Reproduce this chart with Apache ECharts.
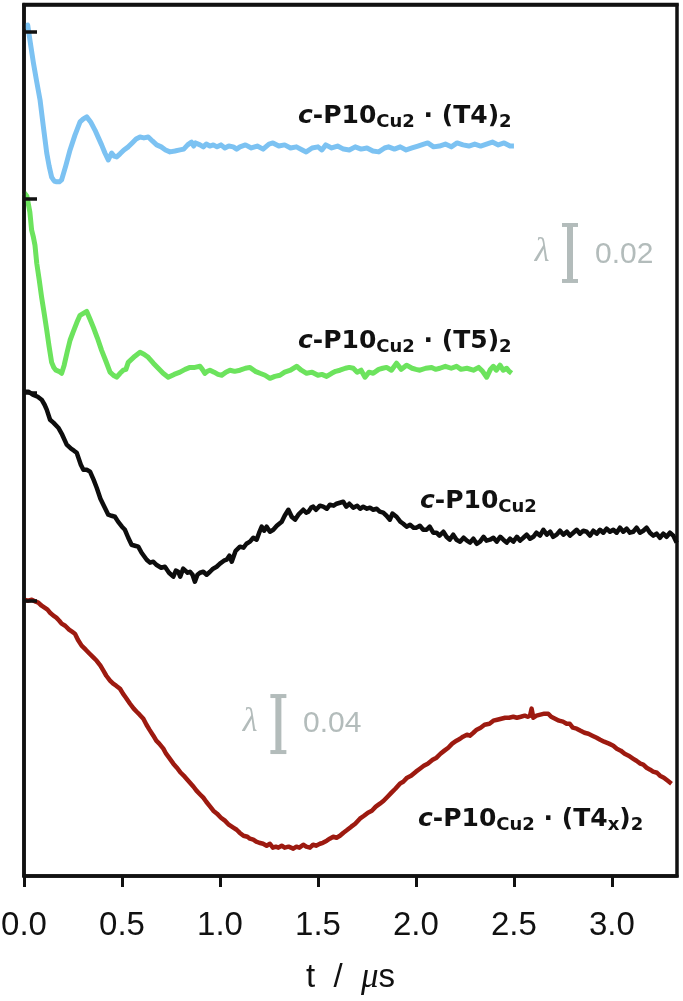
<!DOCTYPE html>
<html>
<head>
<meta charset="utf-8">
<script src="https://cdn.jsdelivr.net/npm/echarts@6/dist/echarts.min.js"></script>
<style>html,body{margin:0;padding:0;background:#fff;}#c{width:683px;height:1001px;}</style>
</head>
<body>
<div id="c"></div>
<script>
// ---- data (t in µs, normalised echo intensity) ----
const tTicks = [0, 0.5, 1, 1.5, 2, 2.5, 3];
const tTickLabels = ['0.0', '0.5', '1.0', '1.5', '2.0', '2.5', '3.0'];

const traceT4 = [
[0.000,1.0016],[0.019,1.0023],[0.030,0.9970],[0.048,0.9888],[0.065,0.9820],[0.082,0.9755],[0.099,0.9659],[0.116,0.9566],
[0.128,0.9520],[0.141,0.9480],[0.154,0.9466],[0.167,0.9463],[0.180,0.9463],[0.192,0.9470],[0.213,0.9520],[0.235,0.9577],
[0.260,0.9630],[0.286,0.9677],[0.303,0.9688],[0.320,0.9695],[0.340,0.9677],[0.362,0.9648],[0.380,0.9620],[0.396,0.9595],
[0.413,0.9566],[0.430,0.9541],[0.447,0.9566],[0.460,0.9555],[0.473,0.9552],[0.490,0.9563],[0.510,0.9577],[0.532,0.9588],
[0.552,0.9602],[0.572,0.9616],[0.592,0.9623],[0.612,0.9620],[0.634,0.9623],[0.655,0.9609],[0.677,0.9595],[0.700,0.9588],
[0.722,0.9577],[0.745,0.9570],[0.770,0.9573],[0.796,0.9577],[0.815,0.9580],[0.835,0.9595],[0.855,0.9605],[0.866,0.9591],
[0.876,0.9602],[0.898,0.9595],[0.915,0.9588],[0.930,0.9598],[0.948,0.9591],[0.966,0.9595],[0.985,0.9588],[1.005,0.9595],
[1.025,0.9584],[1.045,0.9591],[1.068,0.9588],[1.085,0.9580],[1.102,0.9588],[1.130,0.9595],[1.160,0.9584],[1.190,0.9591],
[1.220,0.9580],[1.250,0.9598],[1.270,0.9602],[1.300,0.9591],[1.330,0.9595],[1.360,0.9584],[1.390,0.9588],[1.420,0.9577],
[1.440,0.9570],[1.470,0.9584],[1.500,0.9588],[1.520,0.9577],[1.540,0.9595],[1.570,0.9584],[1.600,0.9591],[1.630,0.9580],
[1.660,0.9577],[1.690,0.9588],[1.720,0.9580],[1.750,0.9584],[1.780,0.9573],[1.810,0.9570],[1.840,0.9584],[1.860,0.9588],
[1.890,0.9580],[1.920,0.9588],[1.950,0.9577],[1.980,0.9584],[2.010,0.9591],[2.040,0.9598],[2.060,0.9602],[2.090,0.9588],
[2.120,0.9591],[2.150,0.9598],[2.180,0.9588],[2.210,0.9602],[2.240,0.9595],[2.270,0.9591],[2.300,0.9598],[2.330,0.9591],
[2.360,0.9598],[2.390,0.9605],[2.420,0.9595],[2.450,0.9602],[2.480,0.9591],[2.500,0.9591]
];

const traceT5 = [
[0.000,1.0021],[0.015,1.0007],[0.030,0.9950],[0.039,0.9886],[0.048,0.9861],[0.056,0.9832],[0.065,0.9768],[0.078,0.9707],
[0.090,0.9646],[0.103,0.9589],[0.116,0.9529],[0.128,0.9471],[0.141,0.9414],[0.152,0.9396],[0.163,0.9386],[0.178,0.9382],
[0.192,0.9375],[0.205,0.9404],[0.220,0.9450],[0.235,0.9493],[0.250,0.9521],[0.270,0.9557],[0.286,0.9582],[0.303,0.9589],
[0.320,0.9596],[0.337,0.9568],[0.354,0.9539],[0.375,0.9500],[0.396,0.9457],[0.418,0.9418],[0.439,0.9379],[0.456,0.9368],
[0.473,0.9361],[0.490,0.9375],[0.507,0.9386],[0.520,0.9389],[0.532,0.9414],[0.541,0.9421],[0.566,0.9436],[0.592,0.9450],
[0.612,0.9443],[0.634,0.9432],[0.660,0.9411],[0.685,0.9393],[0.710,0.9375],[0.736,0.9361],[0.766,0.9371],[0.796,0.9379],
[0.822,0.9389],[0.847,0.9396],[0.872,0.9396],[0.898,0.9400],[0.910,0.9389],[0.923,0.9375],[0.936,0.9382],[0.949,0.9386],
[0.970,0.9379],[0.990,0.9371],[1.009,0.9368],[1.030,0.9379],[1.051,0.9386],[1.075,0.9382],[1.102,0.9386],[1.130,0.9393],
[1.153,0.9396],[1.180,0.9382],[1.204,0.9375],[1.230,0.9368],[1.255,0.9357],[1.280,0.9364],[1.306,0.9368],[1.330,0.9379],
[1.360,0.9386],[1.391,0.9400],[1.415,0.9386],[1.442,0.9375],[1.470,0.9379],[1.500,0.9368],[1.520,0.9371],[1.544,0.9364],
[1.570,0.9375],[1.590,0.9382],[1.612,0.9386],[1.640,0.9393],[1.660,0.9396],[1.680,0.9393],[1.700,0.9379],[1.720,0.9386],
[1.740,0.9361],[1.760,0.9379],[1.782,0.9375],[1.810,0.9389],[1.830,0.9393],[1.850,0.9396],[1.875,0.9386],[1.901,0.9411],
[1.925,0.9389],[1.952,0.9404],[1.980,0.9393],[2.000,0.9389],[2.020,0.9386],[2.050,0.9393],[2.080,0.9396],[2.100,0.9389],
[2.122,0.9393],[2.150,0.9400],[2.180,0.9393],[2.207,0.9400],[2.230,0.9389],[2.260,0.9393],[2.293,0.9386],[2.320,0.9396],
[2.340,0.9382],[2.361,0.9361],[2.380,0.9389],[2.395,0.9400],[2.410,0.9386],[2.429,0.9404],[2.445,0.9386],[2.463,0.9393],
[2.475,0.9382],[2.488,0.9375]
];

const traceFree = [
[0.000,1.0007],[0.022,1.0007],[0.045,0.9986],[0.070,0.9971],[0.090,0.9950],[0.105,0.9914],[0.116,0.9879],[0.133,0.9807],
[0.150,0.9786],[0.175,0.9750],[0.195,0.9700],[0.218,0.9629],[0.240,0.9600],[0.255,0.9586],[0.269,0.9571],[0.290,0.9486],
[0.303,0.9450],[0.320,0.9450],[0.337,0.9436],[0.355,0.9379],[0.371,0.9321],[0.390,0.9243],[0.410,0.9186],[0.430,0.9129],
[0.447,0.9121],[0.464,0.9114],[0.480,0.9079],[0.500,0.9043],[0.515,0.9021],[0.532,0.8964],[0.549,0.8914],[0.566,0.8907],
[0.583,0.8900],[0.600,0.8857],[0.626,0.8807],[0.643,0.8786],[0.660,0.8793],[0.675,0.8771],[0.685,0.8757],[0.700,0.8750],
[0.719,0.8757],[0.740,0.8714],[0.762,0.8686],[0.775,0.8729],[0.787,0.8721],[0.797,0.8686],[0.804,0.8686],[0.812,0.8743],
[0.821,0.8736],[0.835,0.8714],[0.847,0.8721],[0.860,0.8700],[0.872,0.8650],[0.885,0.8700],[0.898,0.8714],[0.915,0.8721],
[0.932,0.8700],[0.949,0.8721],[0.965,0.8743],[0.983,0.8757],[1.000,0.8779],[1.020,0.8800],[1.034,0.8807],[1.048,0.8836],
[1.060,0.8793],[1.080,0.8871],[1.102,0.8900],[1.120,0.8893],[1.135,0.8921],[1.153,0.8936],[1.170,0.8964],[1.187,0.8950],
[1.200,0.9000],[1.213,0.9043],[1.225,0.9014],[1.238,0.9043],[1.255,0.9007],[1.272,0.9021],[1.290,0.9050],[1.315,0.9079],
[1.330,0.9121],[1.349,0.9164],[1.366,0.9114],[1.383,0.9093],[1.400,0.9129],[1.425,0.9164],[1.440,0.9143],[1.451,0.9150],
[1.465,0.9179],[1.476,0.9186],[1.490,0.9164],[1.510,0.9193],[1.527,0.9186],[1.545,0.9171],[1.561,0.9200],[1.580,0.9193],
[1.595,0.9207],[1.612,0.9214],[1.629,0.9221],[1.645,0.9186],[1.660,0.9207],[1.680,0.9179],[1.700,0.9193],[1.715,0.9171],
[1.731,0.9186],[1.750,0.9171],[1.765,0.9179],[1.782,0.9164],[1.800,0.9171],[1.815,0.9150],[1.833,0.9143],[1.850,0.9121],
[1.867,0.9093],[1.880,0.9136],[1.901,0.9114],[1.920,0.9079],[1.935,0.9064],[1.952,0.9043],[1.970,0.9057],[1.988,0.9036],
[2.003,0.9036],[2.020,0.9050],[2.037,0.9021],[2.054,0.9021],[2.070,0.9043],[2.088,0.9000],[2.105,0.9000],[2.120,0.8979],
[2.140,0.9007],[2.156,0.8971],[2.172,0.8950],[2.190,0.8986],[2.207,0.8950],[2.225,0.8936],[2.243,0.8964],[2.260,0.8943],
[2.276,0.8929],[2.293,0.8957],[2.310,0.8921],[2.327,0.8936],[2.345,0.8971],[2.360,0.8943],[2.378,0.8950],[2.395,0.8964],
[2.412,0.8936],[2.430,0.8971],[2.446,0.8950],[2.463,0.8929],[2.480,0.8957],[2.497,0.8936],[2.515,0.8971],[2.531,0.8943],
[2.548,0.8964],[2.565,0.8986],[2.582,0.8957],[2.599,0.8971],[2.615,0.9000],[2.633,0.8979],[2.650,0.9021],[2.668,0.8986],
[2.685,0.9007],[2.700,0.8971],[2.718,0.8986],[2.735,0.9014],[2.752,0.8986],[2.770,0.9007],[2.786,0.8979],[2.803,0.9000],
[2.820,0.9021],[2.837,0.8993],[2.854,0.9014],[2.871,0.9007],[2.888,0.8979],[2.905,0.9014],[2.922,0.8993],[2.939,0.9021],
[2.956,0.9000],[2.973,0.9029],[2.990,0.9007],[3.007,0.9021],[3.024,0.9000],[3.041,0.9036],[3.058,0.9007],[3.075,0.9029],
[3.092,0.9000],[3.109,0.9007],[3.126,0.9036],[3.143,0.9000],[3.160,0.9014],[3.177,0.9036],[3.194,0.9000],[3.211,0.8979],
[3.228,0.8993],[3.245,0.8964],[3.262,0.8993],[3.279,0.8971],[3.296,0.9000],[3.313,0.8979],[3.330,0.8929]
];

const traceT4x = [
[0.000,1.0007],[0.022,1.0000],[0.040,1.0007],[0.060,0.9993],[0.073,0.9986],[0.090,0.9964],[0.105,0.9950],[0.120,0.9936],
[0.133,0.9914],[0.150,0.9893],[0.165,0.9879],[0.180,0.9857],[0.192,0.9836],[0.210,0.9821],[0.230,0.9793],[0.245,0.9779],
[0.260,0.9764],[0.275,0.9721],[0.294,0.9679],[0.315,0.9650],[0.335,0.9621],[0.355,0.9593],[0.371,0.9571],[0.390,0.9536],
[0.405,0.9500],[0.420,0.9464],[0.439,0.9429],[0.455,0.9407],[0.470,0.9393],[0.490,0.9371],[0.505,0.9336],[0.520,0.9307],
[0.541,0.9264],[0.560,0.9229],[0.575,0.9207],[0.590,0.9186],[0.609,0.9157],[0.625,0.9114],[0.640,0.9079],[0.660,0.9036],
[0.675,0.9000],[0.690,0.8979],[0.711,0.8943],[0.725,0.8907],[0.740,0.8879],[0.762,0.8836],[0.780,0.8807],[0.800,0.8771],
[0.820,0.8743],[0.847,0.8700],[0.865,0.8671],[0.880,0.8643],[0.900,0.8614],[0.915,0.8593],[0.930,0.8564],[0.950,0.8529],
[0.966,0.8500],[0.985,0.8479],[1.005,0.8450],[1.025,0.8429],[1.045,0.8400],[1.068,0.8379],[1.085,0.8364],[1.100,0.8343],
[1.120,0.8321],[1.140,0.8314],[1.153,0.8300],[1.170,0.8293],[1.185,0.8279],[1.200,0.8271],[1.220,0.8264],[1.238,0.8250],
[1.255,0.8264],[1.270,0.8236],[1.285,0.8243],[1.298,0.8236],[1.315,0.8250],[1.330,0.8236],[1.350,0.8243],[1.374,0.8229],
[1.390,0.8243],[1.405,0.8236],[1.425,0.8257],[1.440,0.8243],[1.459,0.8236],[1.475,0.8257],[1.490,0.8250],[1.510,0.8264],
[1.525,0.8271],[1.545,0.8286],[1.560,0.8300],[1.578,0.8314],[1.595,0.8307],[1.612,0.8321],[1.630,0.8343],[1.650,0.8364],
[1.670,0.8386],[1.690,0.8407],[1.714,0.8443],[1.735,0.8464],[1.755,0.8486],[1.775,0.8500],[1.795,0.8529],[1.816,0.8550],
[1.835,0.8571],[1.855,0.8600],[1.875,0.8629],[1.895,0.8657],[1.918,0.8693],[1.935,0.8707],[1.955,0.8736],[1.975,0.8750],
[2.000,0.8779],[2.020,0.8800],[2.040,0.8821],[2.060,0.8836],[2.085,0.8864],[2.105,0.8879],[2.125,0.8907],[2.145,0.8929],
[2.165,0.8950],[2.185,0.8979],[2.207,0.9000],[2.225,0.9014],[2.240,0.9029],[2.260,0.9043],[2.275,0.9036],[2.293,0.9057],
[2.310,0.9079],[2.330,0.9093],[2.350,0.9114],[2.375,0.9121],[2.395,0.9143],[2.415,0.9150],[2.435,0.9157],[2.455,0.9164],
[2.475,0.9164],[2.497,0.9171],[2.515,0.9164],[2.535,0.9171],[2.555,0.9179],[2.570,0.9171],[2.582,0.9179],[2.590,0.9229],
[2.599,0.9164],[2.615,0.9179],[2.635,0.9186],[2.655,0.9193],[2.675,0.9193],[2.690,0.9171],[2.710,0.9157],[2.730,0.9143],
[2.750,0.9136],[2.769,0.9121],[2.785,0.9121],[2.800,0.9093],[2.820,0.9086],[2.840,0.9071],[2.860,0.9057],[2.880,0.9050],
[2.900,0.9036],[2.922,0.9021],[2.940,0.9007],[2.960,0.8993],[2.985,0.8979],[3.007,0.8964],[3.025,0.8943],[3.045,0.8929],
[3.065,0.8907],[3.085,0.8893],[3.109,0.8871],[3.125,0.8857],[3.145,0.8836],[3.160,0.8829],[3.177,0.8807],[3.195,0.8793],
[3.210,0.8779],[3.230,0.8771],[3.245,0.8750],[3.265,0.8736],[3.285,0.8714],[3.304,0.8693]
];

// scale bars: [t, lower value, upper value]
const scaleBarSmall = [2.786, 0.9109, 0.9309];   // λ 0.02 (top two traces)
const scaleBarLarge = [1.298, 0.8919, 0.9319];   // λ 0.04 (bottom two traces)

// ---- chart ----
const FONT = '"Liberation Sans", Arial, sans-serif';
const LFONT = '"DejaVu Sans", sans-serif';
const GRAY = '#b3bcbb';

function yAx(min, max, withLine) {
  return {
    type: 'value', min: min, max: max, position: 'left', z: 10,
    axisLine: {show: !!withLine, onZero: false, lineStyle: {color: '#111', width: 3.5}},
    splitLine: {show: false}, axisLabel: {show: false},
    axisTick: {show: true, inside: true, length: 13, customValues: [1], lineStyle: {color: '#111', width: 3.5}}
  };
}

function line(data, yi, color, w) {
  return {type: 'line', data: data, yAxisIndex: yi, showSymbol: false, symbol: 'none',
    lineStyle: {color: color, width: w, join: 'round'}, z: 3};
}
function bar(sb, yi) {
  return {type: 'line', yAxisIndex: yi, data: [[sb[0], sb[1]], [sb[0], sb[2]]],
    symbol: 'rect', symbolSize: [16, 4], showSymbol: true, itemStyle: {color: GRAY},
    lineStyle: {color: GRAY, width: 6}, z: 2};
}

const richLbl = {
  c: {fontFamily: LFONT, fontSize: 25, fontWeight: 'bold', fontStyle: 'italic', lineHeight: 30, fill: '#111', color: '#111'},
  b: {fontFamily: LFONT, fontSize: 25, fontWeight: 'bold', lineHeight: 30, fill: '#111', color: '#111'},
  s: {fontFamily: LFONT, fontSize: 18, fontWeight: 'bold', lineHeight: 15, verticalAlign: 'bottom', fill: '#111', color: '#111'}
};
function lbl(text, x, y) {
  return {type: 'text', x: x, y: y, z: 10,
    style: {text: text, rich: richLbl, verticalAlign: 'middle', align: 'left', fill: '#111'}};
}
function grayText(text, x, y, italic, align) {
  return {type: 'text', x: x, y: y, z: 10,
    style: {text: text, fontSize: italic ? 34 : 30, fontFamily: italic ? '"Liberation Serif", serif' : FONT,
      fontStyle: italic ? 'italic' : 'normal', fill: GRAY, align: align, verticalAlign: 'middle'}};
}

const chart = echarts.init(document.getElementById('c'), null, {renderer: 'canvas'});
chart.setOption({
  animation: false,
  backgroundColor: '#fff',
  grid: {left: 24, right: 6, top: 4.5, bottom: 125, show: true, borderColor: '#111', borderWidth: 3.5,
    backgroundColor: 'transparent', containLabel: false, outerBoundsMode: 'none'},
  xAxis: [{
    type: 'value', min: 0, max: 3.332, z: 10,
    axisLine: {show: true, onZero: false, lineStyle: {color: '#111', width: 3.5}},
    axisTick: {show: true, inside: false, length: 11, customValues: tTicks, lineStyle: {color: '#111', width: 3}},
    axisLabel: {customValues: tTicks, formatter: v => tTickLabels[tTicks.indexOf(v)] !== undefined ? tTickLabels[tTicks.indexOf(v)] : '',
      fontSize: 33, fontFamily: FONT, color: '#111', margin: 33},
    splitLine: {show: false},
    name: 't  /  {i|μ}s', nameLocation: 'middle', nameGap: 84,
    nameTextStyle: {fontSize: 33, fontFamily: FONT, color: '#111',
      rich: {i: {fontSize: 35, fontFamily: '"Liberation Serif", serif', fontStyle: 'italic', color: '#111'}}}
  }, {
    type: 'value', min: 0, max: 3.332, position: 'top', z: 10,
    axisLine: {show: true, onZero: false, lineStyle: {color: '#111', width: 3.5}},
    axisTick: {show: false}, axisLabel: {show: false}, splitLine: {show: false}
  }],
  yAxis: [
    yAx(0.69839, 1.00964, true),
    yAx(0.75796, 1.06921),
    yAx(0.65479, 1.27729),
    yAx(0.80336, 1.42586)
  ],
  series: [
    line(traceT4, 0, '#7cc2f2', 5),
    line(traceT5, 1, '#6ce35d', 5),
    line(traceFree, 2, '#0d0d0d', 4.5),
    line(traceT4x, 3, '#9d1a10', 4.5),
    bar(scaleBarSmall, 0),
    bar(scaleBarLarge, 3)
  ],
  graphic: [
    lbl('{c|c}{b|-P10}{s|Cu2}{b| · (T4)}{s|2}', 298, 116),
    lbl('{c|c}{b|-P10}{s|Cu2}{b| · (T5)}{s|2}', 298, 341),
    lbl('{c|c}{b|-P10}{s|Cu2}', 420, 501),
    lbl('{c|c}{b|-P10}{s|Cu2}{b| · (T4}{s|x}{b|)}{s|2}', 418, 819),
    grayText('λ', 542, 252, true, 'center'),
    grayText('0.02', 595, 255, false, 'left'),
    grayText('λ', 250, 722, true, 'center'),
    grayText('0.04', 303, 724, false, 'left')
  ]
});
</script>
</body>
</html>
